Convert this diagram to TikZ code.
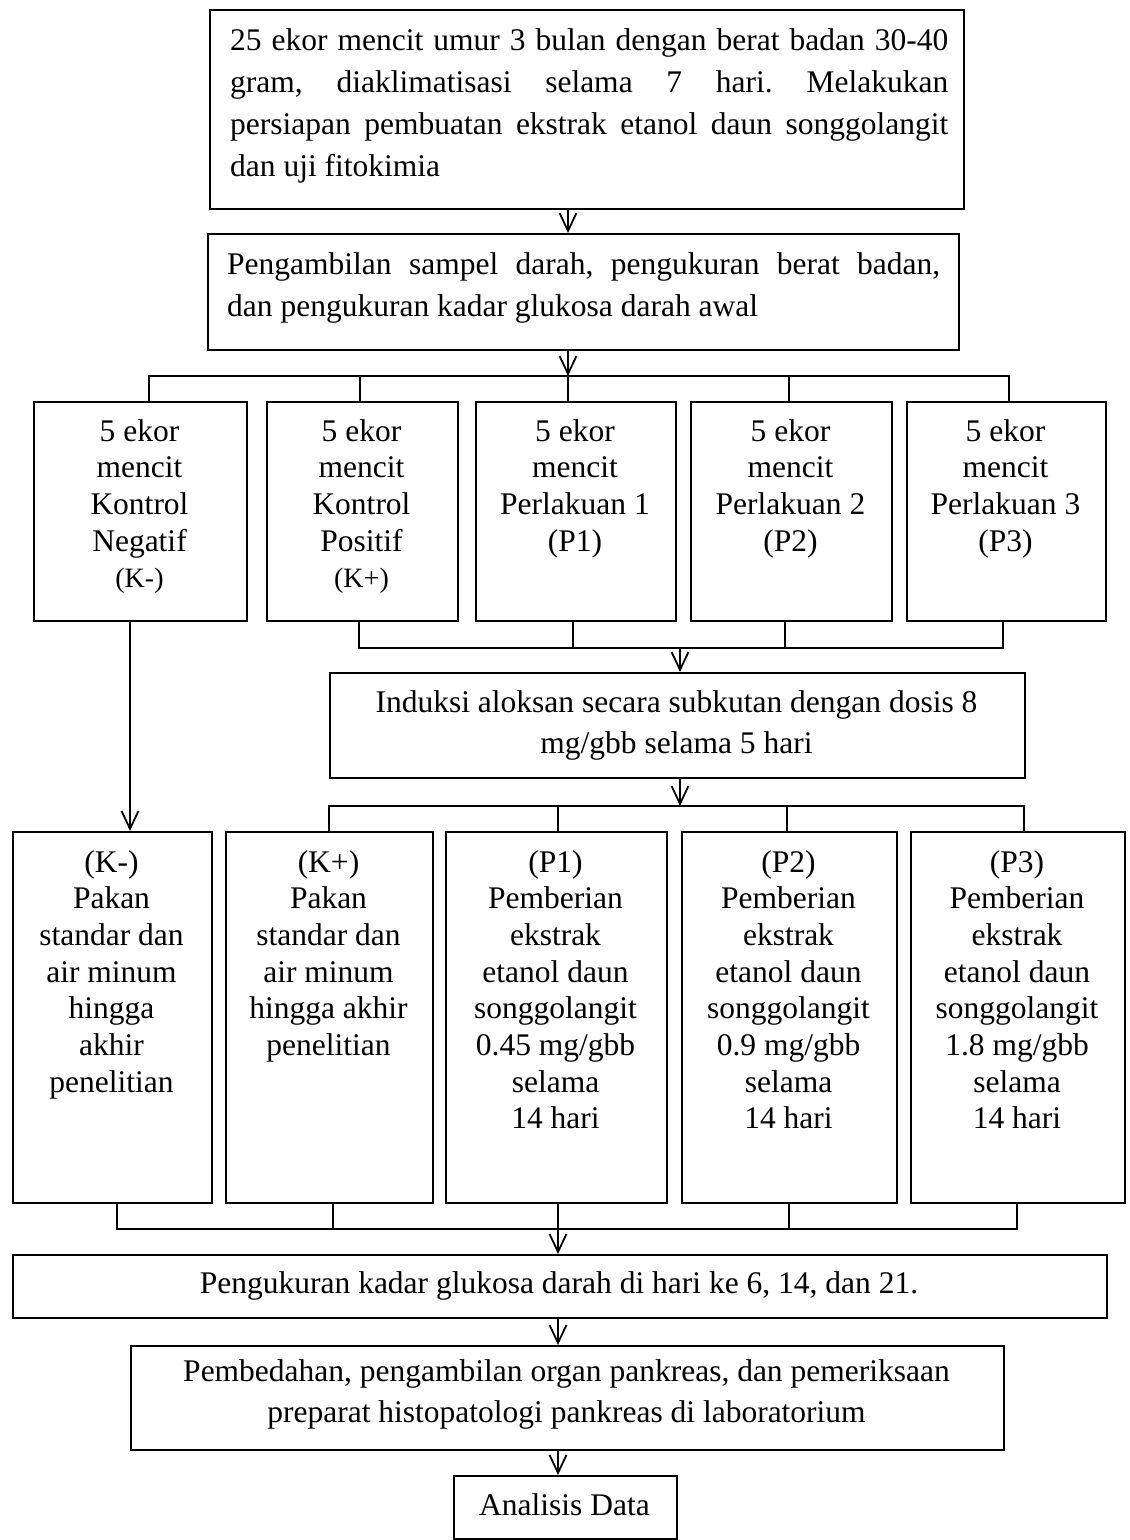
\documentclass[tikz,border=0pt]{standalone}
\usepackage{fontspec}
\setmainfont{Liberation Serif}
\usetikzlibrary{arrows.meta}
\begin{document}
\begin{tikzpicture}[x=1pt,y=-1pt,
  box/.style={draw, line width=2pt, inner sep=0pt, anchor=north west},
  txt/.style={inner sep=0pt, anchor=base},
  txtl/.style={inner sep=0pt, anchor=base west},
  ln/.style={line width=1.8pt},
  arr/.style={line width=1.8pt, -{Straight Barb[length=18pt,width=17pt]}},
]
\useasboundingbox (0,0) rectangle (1130,1540);
\newcommand\mainfs{\fontsize{31.5}{36.7}\selectfont\frenchspacing}
\newcommand\rowtext[2]{\parbox[t]{#1}{\centering\mainfs #2}}
% ---------- boxes ----------
\node[box, minimum width=754pt, minimum height=199pt] (top) at (209,9) {};
\node[box, minimum width=751pt, minimum height=116pt] (b2) at (207,233) {};
\node[box, minimum width=213pt, minimum height=219pt] (r1a) at (33,401) {};
\node[box, minimum width=191pt, minimum height=219pt] (r1b) at (266,401) {};
\node[box, minimum width=200pt, minimum height=219pt] (r1c) at (475,401) {};
\node[box, minimum width=201pt, minimum height=219pt] (r1d) at (690,401) {};
\node[box, minimum width=199pt, minimum height=219pt] (r1e) at (906,401) {};
\node[box, minimum width=695pt, minimum height=105pt] (ind) at (329,672) {};
\node[box, minimum width=199pt, minimum height=371pt] (r2a) at (12,831) {};
\node[box, minimum width=207pt, minimum height=371pt] (r2b) at (225,831) {};
\node[box, minimum width=221pt, minimum height=371pt] (r2c) at (445,831) {};
\node[box, minimum width=215pt, minimum height=371pt] (r2d) at (681,831) {};
\node[box, minimum width=214pt, minimum height=371pt] (r2e) at (910,831) {};
\node[box, minimum width=1094pt, minimum height=63pt] (peng) at (12,1254) {};
\node[box, minimum width=873pt, minimum height=104pt] (pemb) at (130,1345) {};
\node[box, minimum width=223pt, minimum height=63pt] (anal) at (453,1475) {};
% ---------- texts ----------
\node[txtl] (ttop) at (230,50) {\parbox[t]{718pt}{\fontsize{31.5}{42}\selectfont\frenchspacing\tolerance=10000\hbadness=10000\hyphenpenalty=10000
25 ekor mencit umur 3 bulan dengan berat badan 30-40\linebreak
gram, diaklimatisasi selama 7 hari. Melakukan\linebreak
persiapan pembuatan ekstrak etanol daun songgolangit\linebreak
dan uji fitokimia}};
\node[txtl] (tb2) at (227,274) {\parbox[t]{713pt}{\fontsize{31.5}{42}\selectfont\frenchspacing\tolerance=10000\hbadness=10000\hyphenpenalty=10000
Pengambilan sampel darah, pengukuran berat badan,\linebreak
dan pengukuran kadar glukosa darah awal}};
\node[txt] (tr1a) at (139.5,441) {\rowtext{195pt}{5 ekor\\mencit\\Kontrol\\Negatif\\{\fontsize{28}{34}\selectfont (K-)}}};
\node[txt] (tr1b) at (361.5,441) {\rowtext{185pt}{5 ekor\\mencit\\Kontrol\\Positif\\{\fontsize{28}{34}\selectfont (K+)}}};
\node[txt] (tr1c) at (575,441) {\rowtext{190pt}{5 ekor\\mencit\\Perlakuan 1\\(P1)}};
\node[txt] (tr1d) at (790.5,441) {\rowtext{190pt}{5 ekor\\mencit\\Perlakuan 2\\(P2)}};
\node[txt] (tr1e) at (1005.5,441) {\rowtext{190pt}{5 ekor\\mencit\\Perlakuan 3\\(P3)}};
\node[txt] (tind) at (676.5,712) {\parbox[t]{690pt}{\centering\fontsize{31.5}{41}\selectfont
Induksi aloksan secara subkutan dengan dosis 8\\mg/gbb selama 5 hari}};
\node[txt] (tr2a) at (111.5,872) {\rowtext{195pt}{(K-)\\Pakan\\standar dan\\air minum\\hingga\\akhir\\penelitian}};
\node[txt] (tr2b) at (328.5,872) {\rowtext{200pt}{(K+)\\Pakan\\standar dan\\air minum\\hingga akhir\\penelitian}};
\node[txt] (tr2c) at (555.5,872) {\rowtext{210pt}{(P1)\\Pemberian\\ekstrak\\etanol daun\\songgolangit\\0.45 mg/gbb\\selama\\14 hari}};
\node[txt] (tr2d) at (788.5,872) {\rowtext{210pt}{(P2)\\Pemberian\\ekstrak\\etanol daun\\songgolangit\\0.9 mg/gbb\\selama\\14 hari}};
\node[txt] (tr2e) at (1017,872) {\rowtext{210pt}{(P3)\\Pemberian\\ekstrak\\etanol daun\\songgolangit\\1.8 mg/gbb\\selama\\14 hari}};
\node[txt] (tpeng) at (559,1293) {\mainfs Pengukuran kadar glukosa darah di hari ke 6, 14, dan 21.};
\node[txt] (tpemb) at (566.5,1381) {\parbox[t]{860pt}{\centering\fontsize{31.5}{41}\selectfont
Pembedahan, pengambilan organ pankreas, dan pemeriksaan\\preparat histopatologi pankreas di laboratorium}};
\node[txt] (tanal) at (564.5,1515) {\mainfs Analisis Data};
% ---------- connector coordinates ----------
\coordinate (a1) at (568,376);
\coordinate (k11) at (149,376);
\coordinate (k12) at (360,376);
\coordinate (k14) at (789,376);
\coordinate (k15) at (1009,376);
\coordinate (k21) at (359,648);
\coordinate (k22) at (573,648);
\coordinate (a2) at (680,648);
\coordinate (k23) at (785,648);
\coordinate (k24) at (1003,648);
\coordinate (k31) at (329,806);
\coordinate (a3) at (680,806);
\coordinate (k32) at (558,806);
\coordinate (k33) at (787,806);
\coordinate (k34) at (1024,806);
\coordinate (kneg) at (130,620);
\coordinate (k41) at (117,1229);
\coordinate (k42) at (333,1229);
\coordinate (a4) at (558,1229);
\coordinate (k44) at (789,1229);
\coordinate (k45) at (1017,1229);
% ---------- connectors ----------
\draw[arr] (top.south -| a1) -- (b2.north -| a1);
\draw[arr] (b2.south -| a1) -- (a1);
\draw[ln] (k11 |- r1a.north) -- (k11) -- (k15) -- (k15 |- r1e.north);
\draw[ln] (k12) -- (k12 |- r1b.north);
\draw[ln] (a1) -- (a1 |- r1c.north);
\draw[ln] (k14) -- (k14 |- r1d.north);
\draw[ln] (k21 |- r1b.south) -- (k21) -- (k24) -- (k24 |- r1e.south);
\draw[ln] (k22 |- r1c.south) -- (k22);
\draw[ln] (k23 |- r1d.south) -- (k23);
\draw[arr] (a2) -- (a2 |- ind.north);
\draw[arr] (a3 |- ind.south) -- (a3);
\draw[ln] (k31 |- r2b.north) -- (k31) -- (k34) -- (k34 |- r2e.north);
\draw[ln] (k32) -- (k32 |- r2c.north);
\draw[ln] (k33) -- (k33 |- r2d.north);
\draw[arr] (kneg) -- (kneg |- r2a.north);
\draw[ln] (k41 |- r2a.south) -- (k41) -- (k45) -- (k45 |- r2e.south);
\draw[ln] (k42 |- r2b.south) -- (k42);
\draw[ln] (a4 |- r2c.south) -- (a4);
\draw[ln] (k44 |- r2d.south) -- (k44);
\draw[arr] (a4) -- (a4 |- peng.north);
\draw[arr] (peng.south -| a4) -- (pemb.north -| a4);
\draw[arr] (pemb.south -| a4) -- (anal.north -| a4);
\end{tikzpicture}
\end{document}
